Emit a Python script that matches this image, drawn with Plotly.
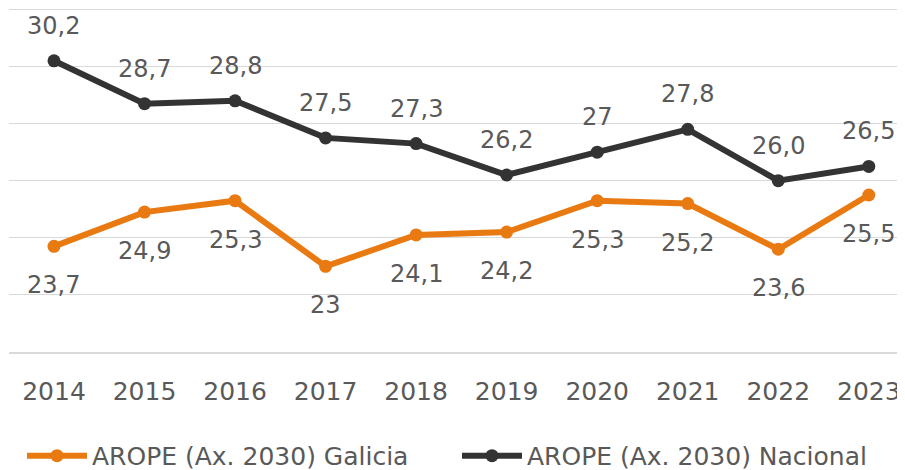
import plotly.graph_objects as go

years = [2014, 2015, 2016, 2017, 2018, 2019, 2020, 2021, 2022, 2023]
galicia = [23.7, 24.9, 25.3, 23.0, 24.1, 24.2, 25.3, 25.2, 23.6, 25.5]
nacional = [30.2, 28.7, 28.8, 27.5, 27.3, 26.2, 27.0, 27.8, 26.0, 26.5]
galicia_labels = ["23,7", "24,9", "25,3", "23", "24,1", "24,2", "25,3", "25,2", "23,6", "25,5"]
nacional_labels = ["30,2", "28,7", "28,8", "27,5", "27,3", "26,2", "27", "27,8", "26,0", "26,5"]

ORANGE = "#E97A12"
DARK = "#333333"
TXT = "#595959"
FONT = "DejaVu Sans"

fig = go.Figure()
fig.add_trace(go.Scatter(
    x=years, y=galicia, mode="lines+markers", name="AROPE (Ax. 2030) Galicia",
    line=dict(color=ORANGE, width=6), marker=dict(color=ORANGE, size=13),
))
fig.add_trace(go.Scatter(
    x=years, y=nacional, mode="lines+markers", name="AROPE (Ax. 2030) Nacional",
    line=dict(color=DARK, width=6), marker=dict(color=DARK, size=13),
))

for xv, yv, t in zip(years, nacional, nacional_labels):
    fig.add_annotation(x=xv, y=yv, text=t, showarrow=False, yshift=35,
                       font=dict(family=FONT, size=24, color=TXT))
for xv, yv, t in zip(years, galicia, galicia_labels):
    fig.add_annotation(x=xv, y=yv, text=t, showarrow=False, yshift=-39,
                       font=dict(family=FONT, size=24, color=TXT))

# the page adds an 8px body margin, so the figure is sized to fill the rest
fig.update_layout(
    width=897, height=462,
    margin=dict(l=1, r=0, t=0, b=118, autoexpand=False),
    paper_bgcolor="white", plot_bgcolor="white",
    font=dict(family=FONT, size=24, color=TXT),
    showlegend=True,
    legend=dict(orientation="h", x=0.5, xanchor="center", y=-0.302, yanchor="middle",
                font=dict(family=FONT, size=25, color=TXT), itemwidth=60,
                entrywidth=360, entrywidthmode="pixels",
                bgcolor="rgba(0,0,0,0)"),
)
fig.update_xaxes(
    range=[2013.503, 2023.4], tickmode="array", tickvals=years,
    ticktext=[str(y) for y in years], showgrid=False,
    showline=True, linecolor="#d9d9d9", linewidth=2,
    ticks="outside", ticklen=16, tickcolor="rgba(0,0,0,0)",
    tickfont=dict(family=FONT, size=25, color=TXT), zeroline=False,
)
fig.update_yaxes(
    range=[20, 32.05], dtick=2, tick0=20, showgrid=True, gridcolor="#d9d9d9", gridwidth=1,
    showticklabels=False, zeroline=False, showline=False,
)

fig.write_html("out.html")
